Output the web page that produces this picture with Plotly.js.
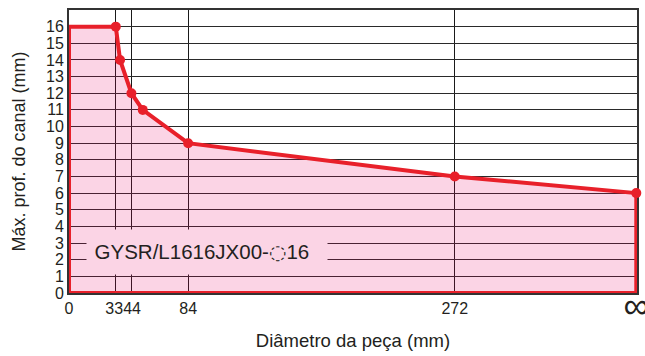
<!DOCTYPE html>
<html>
<head>
<meta charset="utf-8">
<script src="https://cdn.plot.ly/plotly-3.0.1.min.js"></script>
<style>html,body{margin:0;padding:0;background:#fff;}#chart{width:645px;height:356px;}</style>
</head>
<body>
<div id="chart"></div>
<script>
// x position used for "∞"
const INF_X = 400;
const diameters = [33, 36, 44, 52, 84, 272, INF_X];
const depths = [16, 14, 12, 11, 9, 7, 6];
const xTickVals = [0, 33, 44, 84, 272, INF_X];
const xTickText = ['0', '33\u2009', '\u200a44', '84', '272', '<sub><span style="font-size:36px">∞</span></sub>'];
const yTickVals = [0,1,2,3,4,5,6,7,8,9,10,11,12,13,14,15,16];
const labelText = 'GYSR/L1616JX00-<span style="font-family:DejaVu Sans;font-size:20px">◌</span>16\u2002';

const RED = '#e8202a';
const PINK_RGBA = 'rgba(230,0,100,0.17)';
const PINK_SOLID = 'rgb(251,212,229)';

const outlineX = [0, 0].concat(diameters, [INF_X, 0]);
const outlineY = [0, depths[0]].concat(depths, [0, 0]);

const traces = [
  {
    x: outlineX, y: outlineY, type: 'scatter', mode: 'lines',
    fill: 'toself', fillcolor: PINK_RGBA,
    line: {color: RED, width: 4, shape: 'linear'},
    hoverinfo: 'skip', cliponaxis: false
  },
  {
    x: diameters, y: depths, type: 'scatter', mode: 'markers',
    marker: {color: RED, size: 10},
    cliponaxis: false
  }
];

const layout = {
  width: 645, height: 356,
  margin: {l: 69, r: 8, t: 10, b: 63},
  paper_bgcolor: '#fff', plot_bgcolor: '#fff',
  showlegend: false,
  font: {family: '"Liberation Sans", Arial, sans-serif', color: '#231f20', size: 16},
  xaxis: {
    range: [0, INF_X + 0.5],
    tickmode: 'array', tickvals: xTickVals, ticktext: xTickText,
    tickangle: 0, ticklabeloverflow: 'allow',
    showgrid: true, gridcolor: '#1a1a1a', gridwidth: 1,
    zeroline: false,
    showline: true, mirror: true, linecolor: '#333', linewidth: 2,
    layer: 'below traces',
    ticks: '', ticklen: 0,
    tickfont: {size: 16},
    title: {text: 'Diâmetro da peça (mm)', font: {size: 18.5}, standoff: 9}
  },
  yaxis: {
    range: [0, 17],
    tickmode: 'array', tickvals: yTickVals,
    showgrid: true, gridcolor: '#2a2a2a', gridwidth: 1,
    zeroline: false,
    showline: true, mirror: true, linecolor: '#333', linewidth: 2,
    layer: 'below traces',
    ticks: '',
    tickfont: {size: 16},
    title: {text: 'Máx. prof. do canal (mm)', font: {size: 18}, standoff: 16}
  },
  annotations: [{
    x: 97, y: 2.48, xref: 'x', yref: 'y',
    text: labelText, showarrow: false,
    font: {size: 20.5, color: '#231f20'},
    bgcolor: PINK_SOLID, width: 240, height: 44,
    borderpad: 0, align: 'center', valign: 'middle'
  }]
};

Plotly.newPlot('chart', traces, layout, {displayModeBar: false, staticPlot: true});
</script>
</body>
</html>
